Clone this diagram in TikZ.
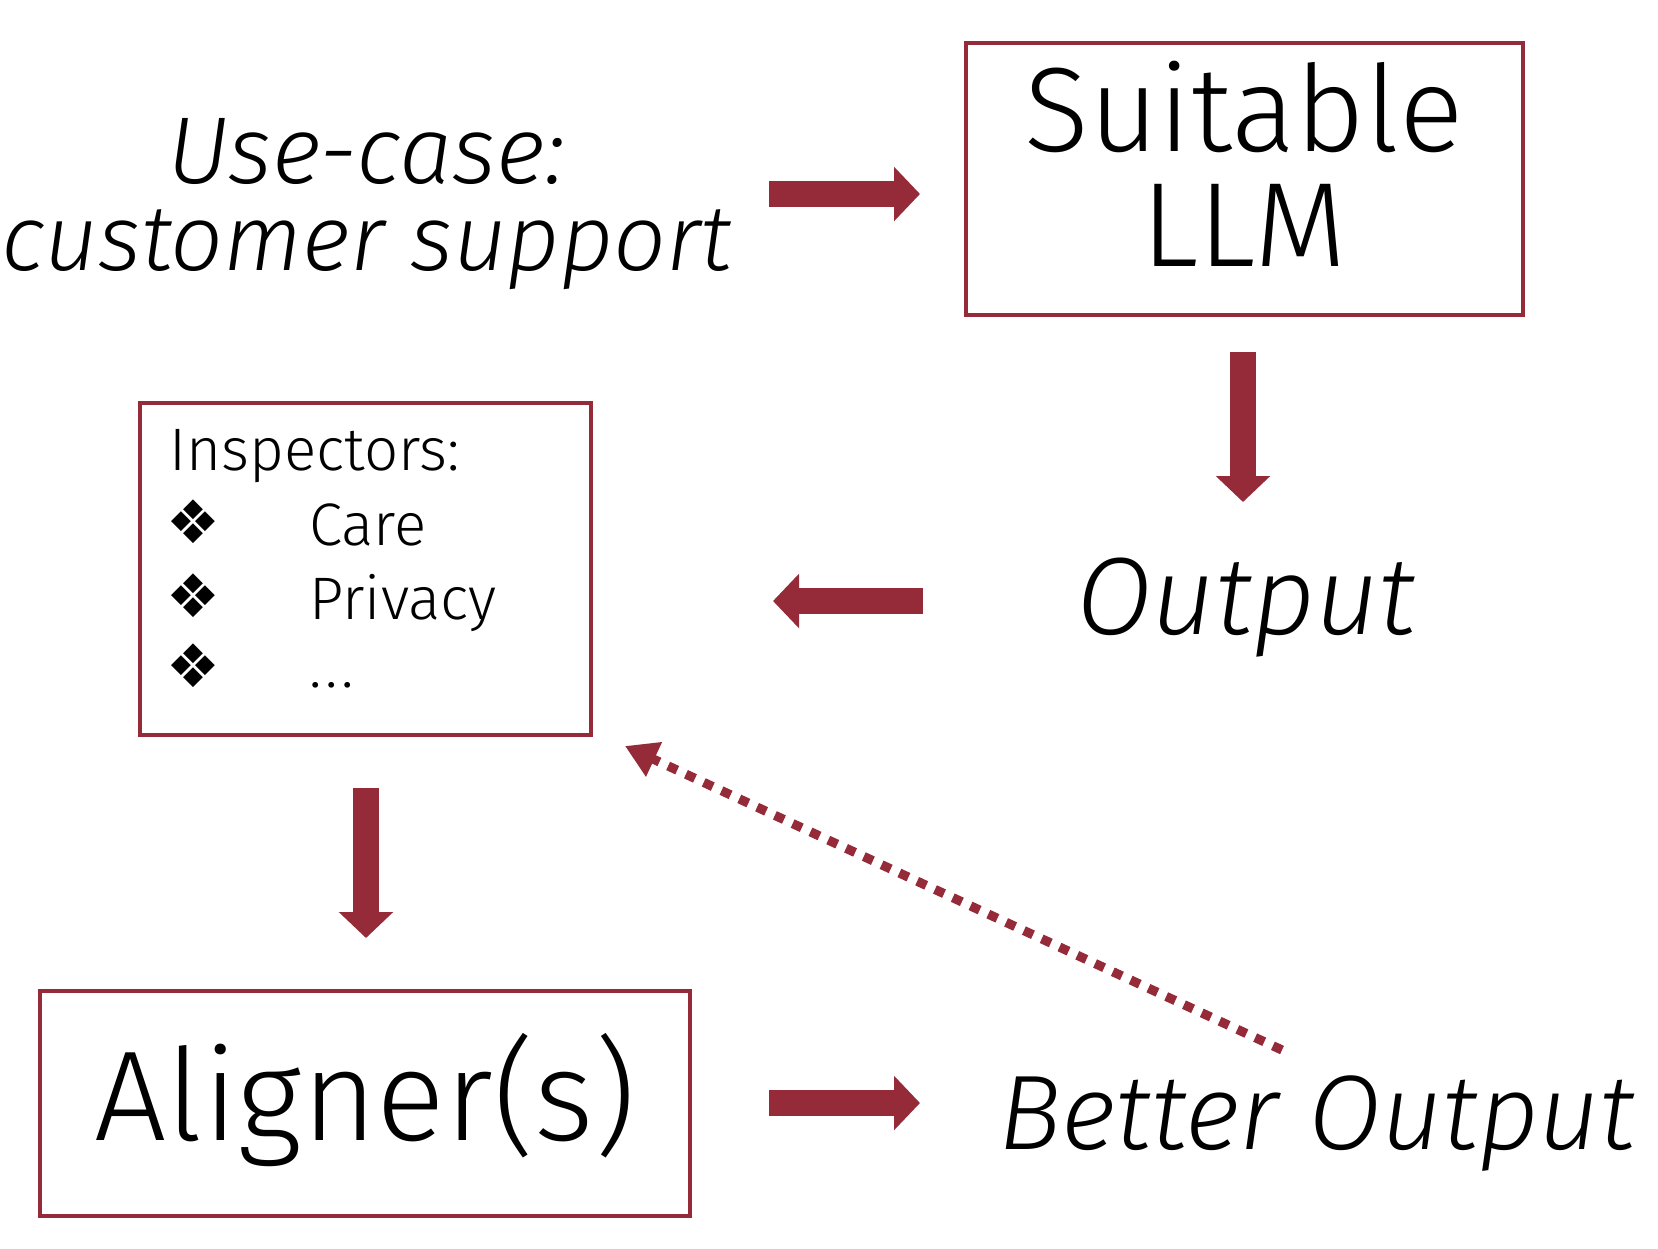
\documentclass[tikz,border=0pt]{standalone}
\usepackage{fontspec}
\setmainfont{Fira Sans}[UprightFont={* Light},ItalicFont={* Light Italic}]
\newfontfamily\symfont{DejaVu Sans}
\usetikzlibrary{arrows.meta}
\definecolor{wine}{HTML}{952B39}
\tikzset{
  box/.style={draw=wine,line width=1.6pt,rectangle,inner sep=0pt},
  blockarrow/.style={draw=wine,line width=13pt,-{Triangle[length=13pt,width=26.5pt]}},
  dotarrow/.style={draw=wine,line width=4.6pt,dash pattern=on 5pt off 4.8pt,-{Triangle[length=16pt,width=18pt]}},
  lbl/.style={inner sep=0pt,anchor=base},
  insp/.style={inner sep=0pt,anchor=base west,font=\fontsize{30}{30}\selectfont},
  bul/.style={inner sep=0pt,anchor=center,font=\symfont\fontsize{30}{30}\selectfont}
}
\begin{document}
\begin{tikzpicture}[x=0.5pt,y=-0.5pt]
\useasboundingbox (0,0) rectangle (1658,1248);
% top text
\node[lbl,font=\fontsize{47.5}{47.5}\selectfont\itshape] (usecase1) at (366,183) {Use-case:};
\node[lbl,font=\fontsize{46.5}{46.5}\selectfont\itshape] (usecase2) at (367,270) {customer support};
% LLM box
\node[box,minimum width=278.5pt,minimum height=136pt] (llm) at (1244.5,179) {};
\node[lbl,font=\fontsize{60}{60}\selectfont] (llm1) at (1244,151) {Suitable};
\node[lbl,font=\fontsize{60}{60}\selectfont] (llm2) at (1244,266) {LLM};
% Output
\node[lbl,font=\fontsize{55}{55}\selectfont\itshape] (output) at (1246,634) {Output};
% Inspectors box
\node[box,minimum width=225.5pt,minimum height=166pt] (insp) at (365.5,569) {};
\node[insp] (ititle) at (169,470) {Inspectors:};
\node[bul] (b1) at (193.5,522) {❖};
\node[bul] (b2) at (193.5,596) {❖};
\node[bul] (b3) at (193.5,666) {❖};
\node[insp] (i1) at (309,545) {Care};
\node[insp] (i2) at (309,619) {Privacy};
\node[insp] (i3) at (309,687) {.\kern1.8pt.\kern1.8pt.};
% Aligner box
\node[box,minimum width=325pt,minimum height=112.5pt] (aligner) at (365,1103.5) {};
\node[lbl,font=\fontsize{64}{64}\selectfont] (alignertext) at (365,1140) {Aligner(s)};
% Better output
\node[lbl,font=\fontsize{53}{53}\selectfont\itshape] (better) at (1317,1149) {Better Output};
% arrow endpoints
\coordinate (a1s) at (769,194); \coordinate (a1e) at (920,194);
\coordinate (a2s) at (1243,352); \coordinate (a2e) at (1243,502);
\coordinate (a3s) at (923,601); \coordinate (a3e) at (773,601);
\coordinate (a4s) at (366,788); \coordinate (a4e) at (366,938);
\coordinate (a5s) at (769,1103); \coordinate (a5e) at (920,1103);
\coordinate (ds) at (1282,1050); \coordinate (de) at (625,746);
\draw[blockarrow] (a1s) -- (a1e);
\draw[blockarrow] (a2s) -- (a2e);
\draw[blockarrow] (a3s) -- (a3e);
\draw[blockarrow] (a4s) -- (a4e);
\draw[blockarrow] (a5s) -- (a5e);
\draw[dotarrow] (ds) -- (de);
\end{tikzpicture}
\end{document}
